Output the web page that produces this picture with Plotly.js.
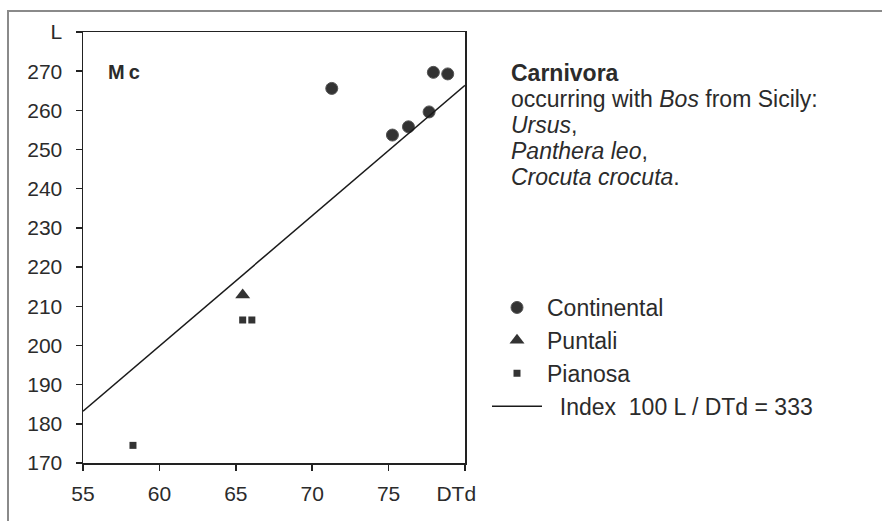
<!DOCTYPE html>
<html>
<head>
<meta charset="utf-8">
<script src="https://cdn.plot.ly/plotly-3.0.1.min.js"></script>
<style>html,body{margin:0;padding:0;background:#fff;}#chart{width:882px;height:521px;}</style>
</head>
<body>
<div id="chart"></div>
<script>
// Data
var continentalX = [71.28, 75.25, 76.30, 77.65, 77.93, 78.87];
var continentalY = [265.6, 253.7, 255.8, 259.6, 269.7, 269.3];
var puntaliX = [65.45];
var puntaliY = [212.9];
var pianosaX = [58.27, 65.45, 66.05];
var pianosaY = [174.5, 206.5, 206.5];
var indexLineX = [55, 80];
var indexLineY = [183.2, 266.4];   // 100 L / DTd = 333
var xTickVals = [55, 60, 65, 70, 75, 80];
var xTickText = ['55', '60', '65', '70', '75', 'DTd\u00a0\u00a0\u00a0'];
var yTickVals = [170, 180, 190, 200, 210, 220, 230, 240, 250, 260, 270, 280];
var yTickText = ['170', '180', '190', '200', '210', '220', '230', '240', '250', '260', '270', 'L'];
var seriesNames = ['Continental', 'Puntali', 'Pianosa', '\u00a0\u00a0Index\u00a0\u00a0100 L / DTd = 333'];
var infoLines = ['<b>Carnivora</b>', 'occurring with <i>Bos</i> from Sicily:', '<i>Ursus</i>,', '<i>Panthera leo</i>,', '<i>Crocuta crocuta</i>.'];

var FONT = 'Liberation Sans, Arial, sans-serif';
var ink = '#2b2b2b';

var traces = [
  {x: continentalX, y: continentalY, name: seriesNames[0], type: 'scatter', mode: 'markers',
   marker: {symbol: 'circle', size: 12, color: '#333', line: {color: '#555', width: 1}}, legendgroup: 'a'},
  {x: puntaliX, y: puntaliY, name: seriesNames[1], type: 'scatter', mode: 'markers',
   marker: {symbol: 'triangle-up', size: 13, color: '#333', line: {width: 0}}, legendgroup: 'b'},
  {x: pianosaX, y: pianosaY, name: seriesNames[2], type: 'scatter', mode: 'markers',
   marker: {symbol: 'square', size: 7, color: '#333', line: {width: 0}}, legendgroup: 'c'},
  {x: indexLineX, y: indexLineY, name: seriesNames[3], type: 'scatter', mode: 'lines',
   line: {color: '#1a1a1a', width: 1.5}, legendgroup: 'd'}
];

var W = 882, H = 521, L = 83, R = 417, T = 32, B = 58;
var pw = W - L - R, ph = H - T - B;
function px(xp) { return (xp - L) / pw; }
function py(yp) { return (H - B - yp) / ph; }

var annotations = [];
var lineYs = [73, 99, 125, 151, 177];
for (var i = 0; i < infoLines.length; i++) {
  annotations.push({text: infoLines[i], xref: 'paper', yref: 'paper', x: px(509), y: py(lineYs[i]),
    xanchor: 'left', yanchor: 'middle', showarrow: false, font: {family: FONT, size: 23, color: ink}});
}
annotations.push({text: '<b>M\u2009c</b>', xref: 'paper', yref: 'paper', x: px(106), y: py(72),
  xanchor: 'left', yanchor: 'middle', showarrow: false, font: {family: FONT, size: 20, color: ink}});

var layout = {
  width: W, height: H,
  margin: {l: L, r: R, t: T, b: B, pad: 0},
  paper_bgcolor: '#fff', plot_bgcolor: '#fff',
  font: {family: FONT, color: ink},
  showlegend: true,
  legend: {x: px(487), y: py(286), xanchor: 'left', yanchor: 'top', bgcolor: 'rgba(0,0,0,0)',
    font: {family: FONT, size: 23, color: ink}, traceorder: 'grouped', tracegroupgap: 0, itemwidth: 50},
  xaxis: {range: [55, 80], tickvals: xTickVals, ticktext: xTickText, ticks: 'outside', ticklen: 6,
    tickwidth: 1.5, tickcolor: '#222', showline: true, linecolor: '#222', linewidth: 1.5, mirror: true,
    showgrid: false, zeroline: false, tickfont: {family: FONT, size: 21, color: ink}, ticklabelstandoff: 5,
    fixedrange: true},
  yaxis: {range: [170, 280], tickvals: yTickVals, ticktext: yTickText, ticks: 'outside', ticklen: 6,
    tickwidth: 1.5, tickcolor: '#222', showline: true, linecolor: '#222', linewidth: 1.5, mirror: true,
    showgrid: false, zeroline: false, tickfont: {family: FONT, size: 21, color: ink}, ticklabelstandoff: 9,
    fixedrange: true},
  shapes: [
    {type: 'rect', xref: 'paper', yref: 'paper', x0: px(8), x1: px(W + 20), y0: py(H + 20), y1: py(11),
     line: {color: '#8a8a8a', width: 2}, fillcolor: 'rgba(0,0,0,0)', layer: 'below'}
  ],
  annotations: annotations
};

Plotly.newPlot('chart', traces, layout, {displayModeBar: false, staticPlot: true});
</script>
</body>
</html>
